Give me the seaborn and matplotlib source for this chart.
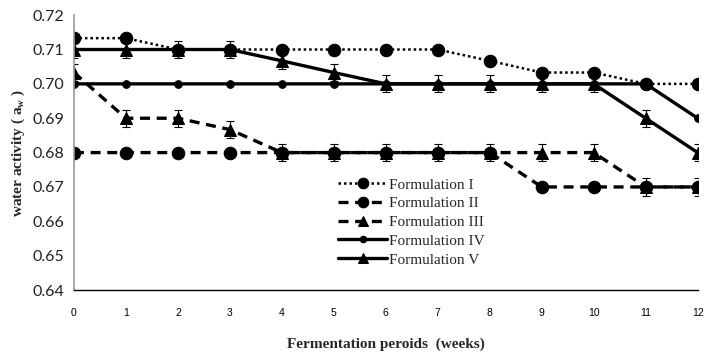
import matplotlib
matplotlib.use("Agg")
import matplotlib.pyplot as plt
import seaborn as sns
import pandas as pd
import numpy as np

weeks = [0, 1, 2, 3, 4, 5, 6, 7, 8, 9, 10, 11, 12]
form_I = [0.7133, 0.7133, 0.710, 0.710, 0.710, 0.710, 0.710, 0.710, 0.7067, 0.7033, 0.7033, 0.700, 0.700]
form_II = [0.680, 0.680, 0.680, 0.680, 0.680, 0.680, 0.680, 0.680, 0.680, 0.670, 0.670, 0.670, 0.670]
form_III = [0.7033, 0.690, 0.690, 0.6867, 0.680, 0.680, 0.680, 0.680, 0.680, 0.680, 0.680, 0.670, 0.670]
form_IV = [0.700, 0.700, 0.700, 0.700, 0.700, 0.700, 0.700, 0.700, 0.700, 0.700, 0.700, 0.700, 0.690]
form_V = [0.710, 0.710, 0.710, 0.710, 0.7067, 0.7033, 0.700, 0.700, 0.700, 0.700, 0.700, 0.690, 0.680]
err_III = [0.0025] * 13
err_V = [0.0025] * 13
names = ["Formulation I", "Formulation II", "Formulation III", "Formulation IV", "Formulation V"]

sns.set_style("white")
plt.rcParams["font.family"] = ["Liberation Serif", "DejaVu Serif"]

fig = plt.figure(figsize=(7.04, 3.52), dpi=100)
ax = fig.add_axes([0.105, 0.176, 0.886, 0.781])

series = [form_I, form_II, form_III, form_IV, form_V]
styles = [
    dict(linestyle=(0, (1, 1.2)), marker="o", markersize=9, linewidth=1.8),
    dict(linestyle=(0, (3, 2)), marker="o", markersize=9, linewidth=2.4),
    dict(linestyle=(0, (3, 2)), marker="^", markersize=8, linewidth=2.4),
    dict(linestyle="-", marker="o", markersize=5.5, linewidth=2.4),
    dict(linestyle="-", marker="^", markersize=8, linewidth=2.4),
]
errs = [None, None, err_III, None, err_V]

for vals, name, st, er in zip(series, names, styles, errs):
    df = pd.DataFrame({"week": weeks, "aw": vals})
    sns.lineplot(data=df, x="week", y="aw", ax=ax, color="black", label=name,
                 markeredgecolor="black", markerfacecolor="black", **st)
    if er is not None:
        ax.errorbar(weeks, vals, yerr=er, fmt="none", ecolor="black",
                    elinewidth=0.8, capsize=3, capthick=0.8)

ax.set_xlim(0, 12)
ax.set_ylim(0.64, 0.72)
ax.set_xticks(weeks)
ax.set_yticks(np.arange(0.64, 0.7201, 0.01))
ax.yaxis.set_major_formatter(matplotlib.ticker.FormatStrFormatter("%.2f"))

for lab in ax.get_yticklabels():
    lab.set_fontfamily("Lato")
    lab.set_fontsize(11.5)
    lab.set_color("#222222")
for lab in ax.get_xticklabels():
    lab.set_fontfamily("Liberation Sans")
    lab.set_fontsize(7.5)
    lab.set_color("#333333")

ax.tick_params(axis="both", direction="out", length=4, width=0.8, colors="black")
ax.tick_params(axis="x", pad=9)
ax.tick_params(axis="y", pad=3, colors="#888888", labelcolor="#222222")
sns.despine(ax=ax)
ax.spines["left"].set_color("#999999")
ax.spines["left"].set_linewidth(1.2)
ax.spines["bottom"].set_color("black")
ax.spines["bottom"].set_linewidth(1.0)

ax.set_xlabel("Fermentation peroids  (weeks)", fontweight="bold", fontsize=11, labelpad=14)
ax.set_ylabel("water activity ( a$_\\mathregular{w}$ )", fontweight="bold", fontsize=11, labelpad=4)

leg = ax.legend(loc="upper left", bbox_to_anchor=(0.472, 0.512), bbox_transform=fig.transFigure,
                frameon=False, fontsize=11, handlelength=3.2, handletextpad=0.1,
                labelspacing=0.33, borderaxespad=0, markerscale=0.85)

fig.savefig("out.png", dpi=100)
